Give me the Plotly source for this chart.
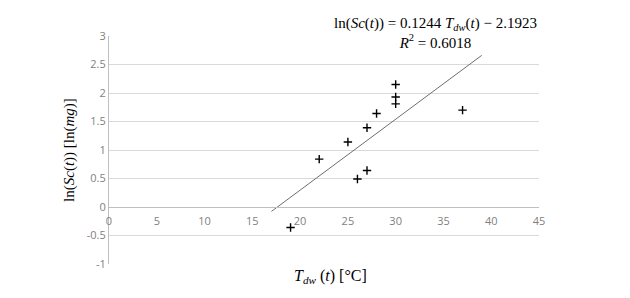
import plotly.graph_objects as go

temp_c = [30, 30, 30, 28, 27, 25, 22, 27, 26, 19, 37]
ln_sc = [2.15, 1.93, 1.81, 1.64, 1.39, 1.14, 0.84, 0.64, 0.49, -0.36, 1.70]
slope = 0.1244
intercept = -2.1923
trend_x = [17, 39]
trend_y = [slope * x + intercept for x in trend_x]
x_ticks = [0, 5, 10, 15, 20, 25, 30, 35, 40, 45]
y_ticks = [-1, -0.5, 0, 0.5, 1, 1.5, 2, 2.5, 3]

fig = go.Figure()
fig.add_trace(go.Scatter(x=trend_x, y=trend_y, mode="lines",
                         line=dict(color="#6e6e6e", width=1), showlegend=False))
fig.add_trace(go.Scatter(x=temp_c, y=ln_sc, mode="markers",
                         marker=dict(symbol="cross-thin", size=6, color="black",
                                     line=dict(color="black", width=1.4)),
                         showlegend=False))

fig.update_layout(
    width=630, height=298,
    margin=dict(l=109, r=91, t=36, b=34, autoexpand=False),
    paper_bgcolor="white", plot_bgcolor="white",
    font=dict(family="Open Sans", color="#595959"),
    xaxis=dict(range=[0, 45], tickvals=x_ticks, ticktext=[str(v) for v in x_ticks],
               showgrid=False, zeroline=False, showline=True, linecolor="#bfbfbf",
               linewidth=1, anchor="free", position=0.25, ticks="", automargin=False,
               tickfont=dict(size=11, color="#7f7f7f"), ticklabelstandoff=4),
    yaxis=dict(range=[-1, 3], tickvals=y_ticks, ticktext=[f"{v:g}" for v in y_ticks],
               showgrid=True, gridcolor="#d9d9d9", gridwidth=1, zeroline=False,
               showline=True, linecolor="#bfbfbf", linewidth=1, ticks="", automargin=False,
               tickfont=dict(size=11, color="#7f7f7f"),
               title=dict(text="ln(<i>Sc</i>(<i>t</i>)) [ln(<i>mg</i>)]",
                          font=dict(family="Liberation Serif", size=15, color="black"),
                          standoff=8)),
)

fig.add_annotation(xref="paper", yref="paper", x=0.514, y=-0.057, xanchor="center",
                   yanchor="middle", showarrow=False,
                   text="<i>T</i><sub><i>dw</i></sub> (<i>t</i>) [°C]",
                   font=dict(family="Liberation Serif", size=16, color="black"))
fig.add_annotation(xref="paper", yref="paper", x=0.759, y=1.013, xanchor="center",
                   yanchor="middle", showarrow=False, bgcolor="white", align="center",
                   text="ln(<i>Sc</i>(<i>t</i>)) = 0.1244 <i>T</i><sub><i>dw</i></sub>(<i>t</i>) − 2.1923<br><i>R</i><sup>2</sup> = 0.6018",
                   font=dict(family="Liberation Serif", size=15, color="black"))

fig.write_html("out.html", config={"displayModeBar": False},
               post_script="document.body.style.margin='0';")
